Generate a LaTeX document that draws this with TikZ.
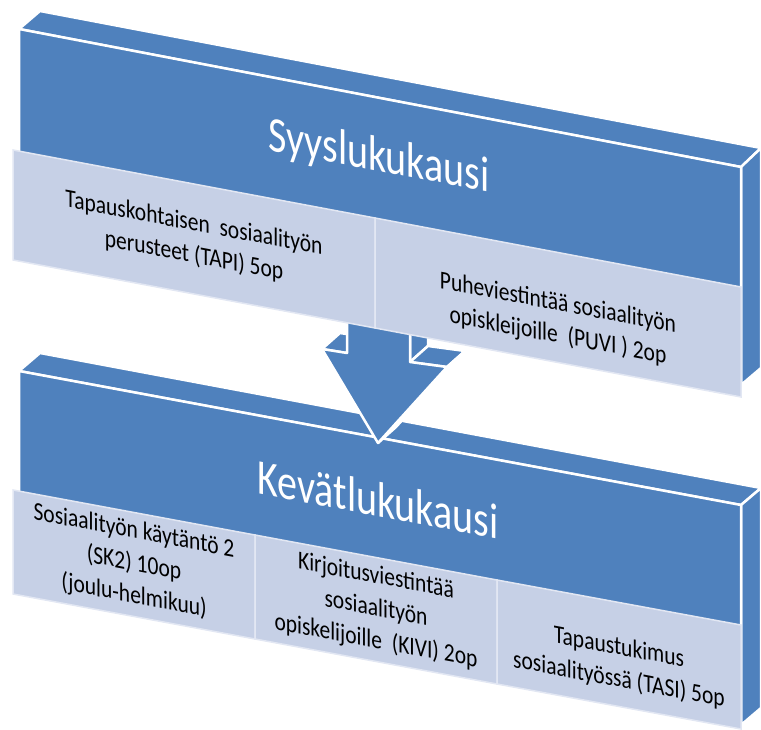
\documentclass[tikz,border=0pt]{standalone}
\usepackage{fontspec}
\setmainfont{Carlito}
\usepackage{tikz}
\usetikzlibrary{positioning}
\definecolor{blockblue}{RGB}{79,129,189}
\definecolor{panelblue}{RGB}{198,208,230}
\definecolor{paneledge}{RGB}{226,231,243}
\tikzset{
    face/.style={
           fill=blockblue,
           draw=white, line width=2.5pt,
           line join=round,
           },
    panel/.style={
           fill=panelblue,
           draw=paneledge, line width=1.5pt,
           },
    heading/.style={
           text=white,
           font=\fontsize{40}{48}\selectfont,
           yslant=-0.188, yscale=1.25,
           inner sep=0pt,
           },
    course/.style={
           text=black,
           font=\fontsize{21.5}{27}\selectfont,
           align=center,
           yslant=-0.188, yscale=1.2,
           inner sep=0pt,
           },
}

\begin{document}
\begin{tikzpicture}[x=1pt,y=-1pt]
 \useasboundingbox (0,0) rectangle (761,730);

 % Syyslukukausi block: top, right side and front face
 \draw[face] (19,29) -- (40,11) -- (761,148) -- (741,167) -- cycle;
 \draw[face] (741,167) -- (761,148) -- (761,368) -- (741,385) -- cycle;
 \draw[face] (19,29) -- (741,167) -- (741,385) -- (19,247) -- cycle;

 % Kevatlukukausi block
 \draw[face] (19,371) -- (40,353) -- (761,488) -- (741,505) -- cycle;
 \draw[face] (741,505) -- (761,488) -- (761,708) -- (741,725) -- cycle;
 \draw[face] (19,371) -- (741,505) -- (741,725) -- (19,591) -- cycle;

 % arrow between the blocks (its top is hidden behind the panels)
 \draw[face] (322,349) -- (347,353) -- (365,337) -- (340,333) -- cycle;
 \draw[face] (410,300) -- (410,362) -- (428,346) -- (428,284) -- cycle;
 \draw[face] (410,362) -- (447,367) -- (465,351) -- (428,346) -- cycle;
 \draw[face] (447,367) -- (378,443) -- (396,427) -- (465,351) -- cycle;
 \draw[face] (347,300) -- (347,353) -- (322,349) -- (378,443)
             -- (447,367) -- (410,362) -- (410,300) -- cycle;

 % course panels of the autumn
 \draw[panel] (13,150) -- (375,218) -- (375,328) -- (13,260) -- cycle;
 \draw[panel] (375,218) -- (741,287) -- (741,397) -- (375,328) -- cycle;

 % course panels of the spring
 \draw[panel] (13,490) -- (255,535) -- (255,639) -- (13,594) -- cycle;
 \draw[panel] (255,535) -- (497,580) -- (497,684) -- (255,639) -- cycle;
 \draw[panel] (497,580) -- (741,625) -- (741,729) -- (497,684) -- cycle;

 % headings
 \node[heading] (Syys)  at (379,158) {Syyslukukausi};
 \node[heading] (Kevat) at (378,499) {Kevätlukukausi};

 % courses
 \node[course] (TAPI) at (194,240)
  {Tapauskohtaisen\ \ sosiaalityön\\perusteet (TAPI) 5op};
 \node[course] (PUVI) at (558,320)
  {Puheviestintää sosiaalityön\\opiskleijoille\ \ (PUVI ) 2op};
 \node[course] (SK2) at (134,564)
  {Sosiaalityön käytäntö 2\\(SK2) 10op\\(joulu-helmikuu)};
 \node[course] (KIVI) at (376,609)
  {Kirjoitusviestintää\\sosiaalityön\\opiskelijoille\ \ (KIVI) 2op};
 \node[course] (TASI) at (619,664)
  {Tapaustukimus\\sosiaalityössä (TASI) 5op};

\end{tikzpicture}
\end{document}
